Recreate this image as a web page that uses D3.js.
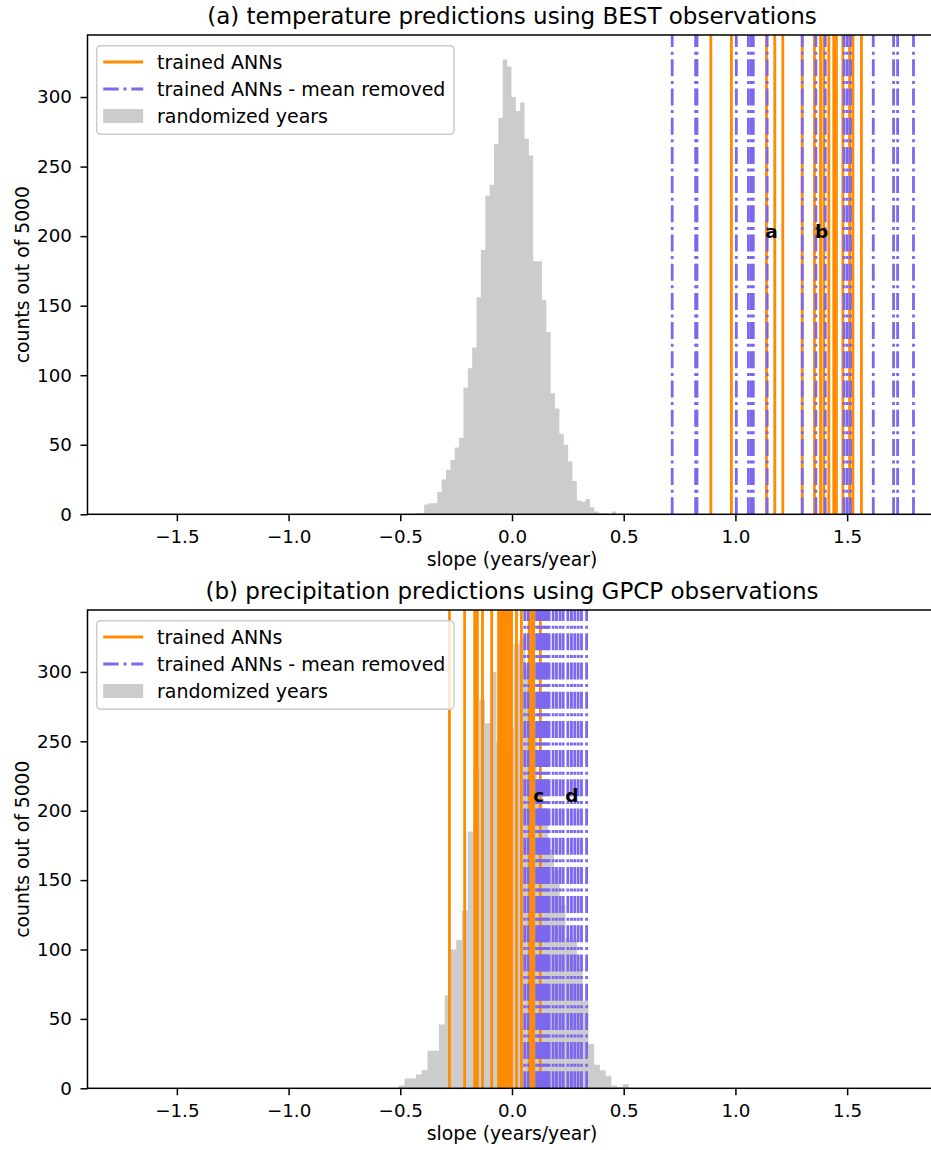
<!DOCTYPE html>
<html><head><meta charset="utf-8">
<script src="https://cdn.jsdelivr.net/npm/d3@7"></script>
<style>
html,body{margin:0;padding:0;background:#fff}
svg{display:block;font-family:"DejaVu Sans",sans-serif}
</style>
</head><body><div id="chart"></div>
<script>
// ---------------- data ----------------
const xTicks = [-1.5, -1.0, -0.5, 0.0, 0.5, 1.0, 1.5];
const yTicks = [0, 50, 100, 150, 200, 250, 300];
const legendLabels = ["trained ANNs", "trained ANNs - mean removed", "randomized years"];
const titles = ["(a) temperature predictions using BEST observations",
                "(b) precipitation predictions using GPCP observations"];
const xLabel = "slope (years/year)";
const yLabel = "counts out of 5000";

// panel (a): histogram of randomized-year slopes
const histABinStart = -0.432;
const histABinWidth = 0.01952;
const histACounts = [1, 1, 7, 8, 8, 16, 25, 32, 39, 48, 55, 91, 105, 120, 156, 190, 229, 237, 266, 285,
                     327, 322, 300, 290, 296, 270, 258, 182, 182, 154, 131, 87, 76, 58, 50, 38, 24, 10, 9, 11,
                     5, 2, 1, 1, 0, 2];
// panel (a): trained ANN slopes
const annA = [0.890, 0.982, 1.139, 1.176, 1.212, 1.299, 1.354, 1.381, 1.396, 1.418, 1.440, 1.452,
              1.481, 1.511, 1.526, 1.564];
const annMeanRemovedA = [0.717, 0.822, 0.828, 1.004, 1.058, 1.070, 1.080, 1.142, 1.299, 1.360, 1.402,
                         1.486, 1.500, 1.515, 1.617, 1.708, 1.726, 1.797];
const markLabelsA = ["a", "b"];
const markXA = [1.161, 1.386];
const markYA = [199, 199];

// panel (b)
const histBBinStart = -0.507;
const histBBinWidth = 0.02573;
const histBCounts = [2, 7, 7, 10, 13, 27, 27, 46, 67, 100, 107, 128, 185, 230, 280, 263, 300, 250, 240, 260,
                     320, 324, 303, 258, 215, 190, 172, 157, 132, 108, 107, 86, 63, 32, 17, 13, 9, 2, 1, 3];
const annB = [-0.280, -0.212, -0.167, -0.155, -0.132, -0.091, -0.060, -0.050, -0.040, -0.030, -0.020,
              -0.010, -0.002, 0.020, 0.042, 0.077, 0.088, 0.097, 0.127];
const annMeanRemovedB = [0.057, 0.072, 0.110, 0.118, 0.126, 0.134, 0.142, 0.150, 0.158, 0.166, 0.184,
                         0.199, 0.215, 0.229, 0.250, 0.266, 0.281, 0.296, 0.311, 0.334];
const markLabelsB = ["c", "d"];
const markXB = [0.120, 0.268];
const markYB = [206, 206];

// ---------------- drawing ----------------
const W = 931, H = 1150;
const ORANGE = "#ff8c00", PURPLE = "#7b68ee", GRAY = "#cccccc";
const DASH = "17,4.6,3,4.6";
const LW = 2.8;

const svg = d3.select("#chart").append("svg").attr("width", W).attr("height", H)
  .attr("viewBox", `0 0 ${W} ${H}`);
svg.append("rect").attr("width", W).attr("height", H).attr("fill", "#fff");

const panels = [
  {top: 35, bottom: 514.3, title: titles[0], binStart: histABinStart, binWidth: histABinWidth,
   counts: histACounts, ann: annA, annMR: annMeanRemovedA, mLab: markLabelsA, mX: markXA, mY: markYA},
  {top: 610, bottom: 1088.3, title: titles[1], binStart: histBBinStart, binWidth: histBBinWidth,
   counts: histBCounts, ann: annB, annMR: annMeanRemovedB, mLab: markLabelsB, mX: markXB, mY: markYB}
];

const left = 87.5, right = 936.5;

panels.forEach((p, pi) => {
  const x = d3.scaleLinear().domain([-1.9, 1.9]).range([left, right]);
  const y = d3.scaleLinear().domain([0, 344.6]).range([p.bottom, p.top]);
  const g = svg.append("g");

  const clipId = "clip" + pi;
  svg.append("clipPath").attr("id", clipId).append("rect")
    .attr("x", left).attr("y", p.top).attr("width", right - left).attr("height", p.bottom - p.top);
  const plot = g.append("g").attr("clip-path", `url(#${clipId})`);

  // histogram as a stepped area (no seams between bars)
  const pts = p.counts.map((c, i) => ({xv: p.binStart + i * p.binWidth, c}));
  pts.push({xv: p.binStart + p.counts.length * p.binWidth, c: 0});
  const area = d3.area().curve(d3.curveStepAfter)
    .x(d => x(d.xv)).y0(y(0)).y1(d => y(d.c));
  plot.append("path").datum(pts).attr("d", area).attr("fill", GRAY);

  // trained ANNs (solid orange)
  plot.append("g").selectAll("line").data(p.ann).join("line")
    .attr("x1", d => x(d)).attr("x2", d => x(d))
    .attr("y1", y(0)).attr("y2", y(344.6))
    .attr("stroke", ORANGE).attr("stroke-width", LW);

  // mean removed (dash-dot purple)
  plot.append("g").selectAll("line").data(p.annMR).join("line")
    .attr("x1", d => x(d)).attr("x2", d => x(d))
    .attr("y1", y(0)).attr("y2", y(344.6))
    .attr("stroke", PURPLE).attr("stroke-width", LW)
    .attr("stroke-dasharray", DASH);

  // labels a/b/c/d
  g.append("g").selectAll("text").data(p.mLab).join("text")
    .attr("x", (d, i) => x(p.mX[i])).attr("y", (d, i) => y(p.mY[i]))
    .attr("text-anchor", "middle").attr("font-weight", "bold").attr("font-size", 18.5)
    .attr("fill", "#000").text(d => d);

  // axes
  const xAxis = d3.axisBottom(x).tickValues(xTicks).tickFormat(d3.format(".1f"))
    .tickSize(7).tickPadding(9.2);
  const xa = g.append("g").attr("transform", `translate(0,${p.bottom})`).call(xAxis);
  xa.select(".domain").remove();
  xa.selectAll("line").attr("stroke", "#000").attr("stroke-width", 1.5);
  xa.selectAll("text").attr("font-size", 18.3).attr("fill", "#000")
    .attr("font-family", '"DejaVu Sans",sans-serif');

  const yAxis = d3.axisLeft(y).tickValues(yTicks).tickFormat(d3.format("d"))
    .tickSize(7).tickPadding(8.5);
  const ya = g.append("g").attr("transform", `translate(${left},0)`).call(yAxis);
  ya.select(".domain").remove();
  ya.selectAll("line").attr("stroke", "#000").attr("stroke-width", 1.5);
  ya.selectAll("text").attr("font-size", 18.3).attr("fill", "#000")
    .attr("font-family", '"DejaVu Sans",sans-serif');

  // spines
  g.append("rect").attr("x", left).attr("y", p.top).attr("width", right - left).attr("height", p.bottom - p.top)
    .attr("fill", "none").attr("stroke", "#000").attr("stroke-width", 1.5);

  // titles & labels
  g.append("text").attr("x", (left + right) / 2).attr("y", p.top - 11)
    .attr("text-anchor", "middle").attr("font-size", 23).attr("fill", "#000").text(p.title);
  g.append("text").attr("x", (left + right) / 2).attr("y", p.bottom + 52)
    .attr("text-anchor", "middle").attr("font-size", 18.8).attr("fill", "#000").text(xLabel);
  g.append("text").attr("transform", `translate(29,${(p.top + p.bottom) / 2}) rotate(-90)`)
    .attr("text-anchor", "middle").attr("font-size", 18.8).attr("fill", "#000").text(yLabel);

  // legend
  const lg = g.append("g").attr("transform", `translate(96.7,${p.top + 10.7})`);
  lg.append("rect").attr("width", 357.3).attr("height", 88.6).attr("rx", 4)
    .attr("fill", "#fff").attr("fill-opacity", 0.8)
    .attr("stroke", "#cccccc").attr("stroke-width", 1.5);
  const rows = [16.3, 43.3, 70.3];
  lg.append("line").attr("x1", 6.5).attr("x2", 46.5).attr("y1", rows[0]).attr("y2", rows[0])
    .attr("stroke", ORANGE).attr("stroke-width", LW);
  lg.append("line").attr("x1", 6.5).attr("x2", 46.5).attr("y1", rows[1]).attr("y2", rows[1])
    .attr("stroke", PURPLE).attr("stroke-width", LW).attr("stroke-dasharray", "15.5,4.8,3,4.8");
  lg.append("rect").attr("x", 6.5).attr("y", rows[2] - 7).attr("width", 40).attr("height", 14)
    .attr("fill", GRAY);
  lg.selectAll("text.lt").data(legendLabels).join("text").attr("class", "lt")
    .attr("x", 60.3).attr("y", (d, i) => rows[i]).attr("dy", "0.36em")
    .attr("font-size", 19).attr("fill", "#000").text(d => d);
});
</script>
</body></html>
